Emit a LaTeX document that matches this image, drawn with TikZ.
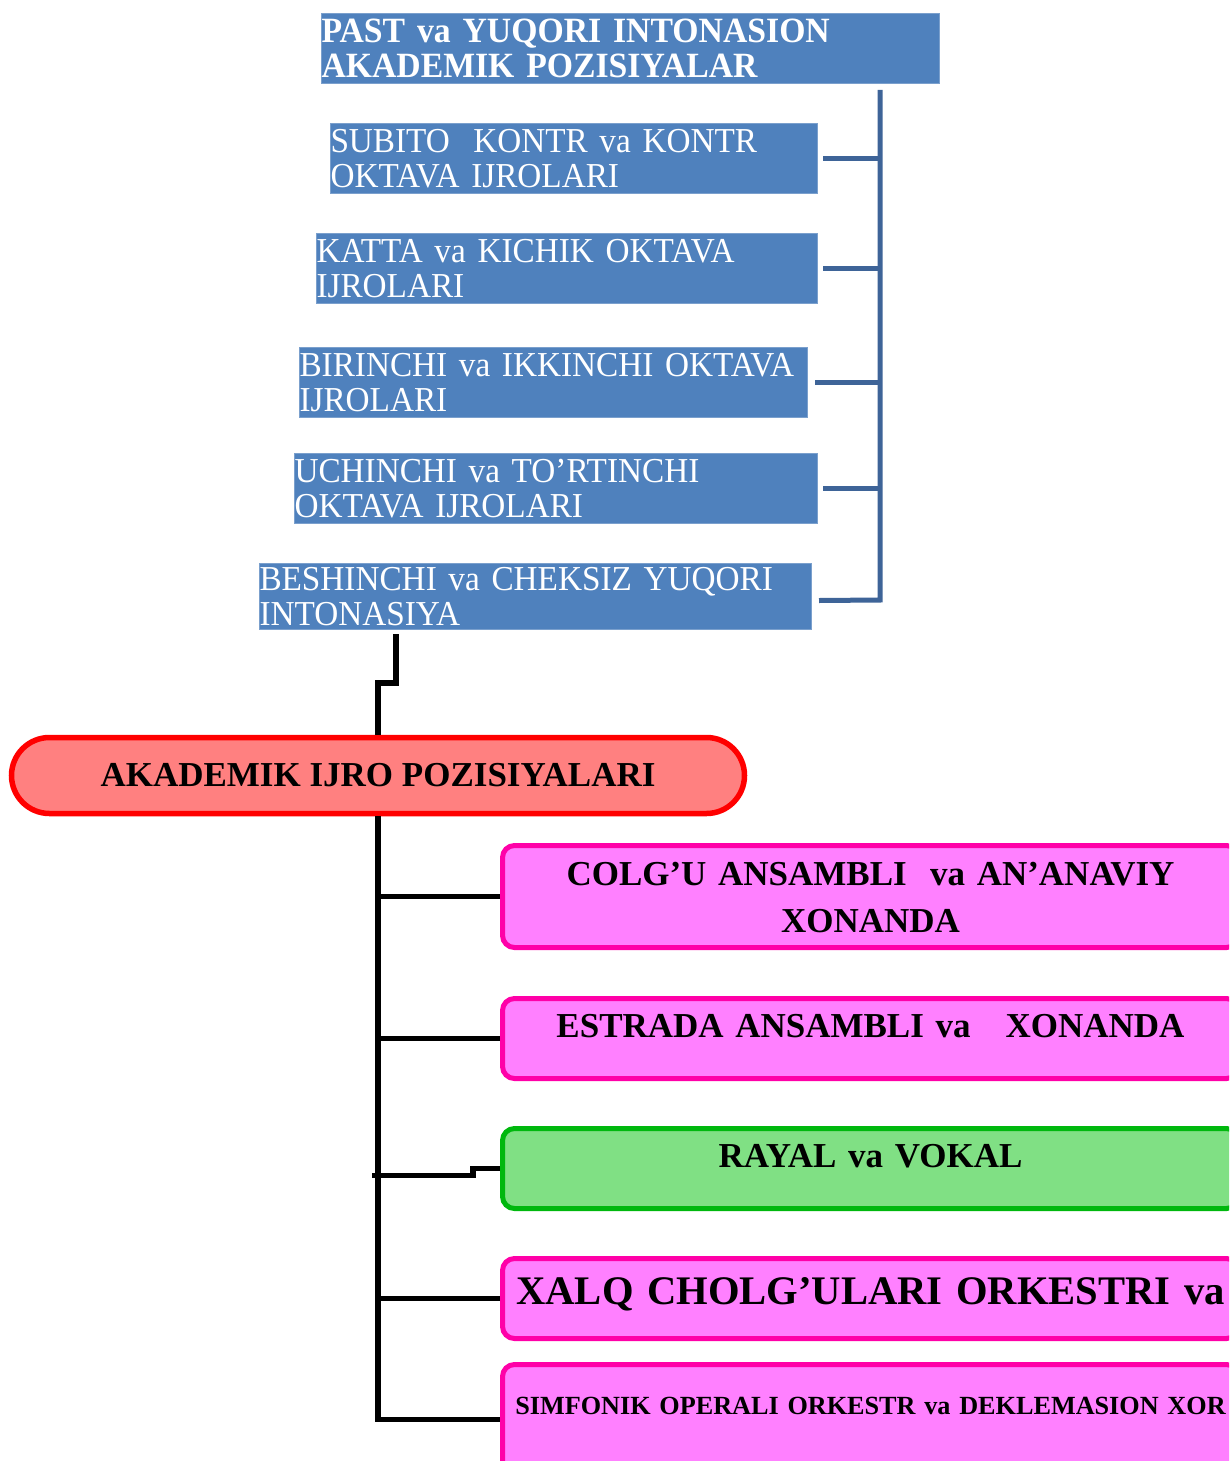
\documentclass[tikz,border=0pt]{standalone}
\usepackage{fontspec}
\setmainfont{Liberation Serif}
\newfontfamily\bluefont[FakeStretch=0.95]{Liberation Serif}
\usetikzlibrary{calc,positioning}

\definecolor{boxblue}{HTML}{4F81BD}
\definecolor{lineblue}{HTML}{3E6498}
\definecolor{salmon}{HTML}{FF8080}
\definecolor{pinkfill}{HTML}{FF80FF}
\definecolor{pinkline}{HTML}{FF00A8}
\definecolor{greenfill}{HTML}{80E084}
\definecolor{greenline}{HTML}{00B80E}

\tikzset{
	bluebox/.style={fill=boxblue, draw=boxblue!75!white, line width=1pt, anchor=north west,
		inner sep=0pt, text=white, align=left, minimum height=70pt,
		font=\bluefont\fontsize{35}{35}\selectfont},
	pinkbox/.style={fill=pinkfill, draw=pinkline, line width=5pt, rounded corners=12pt,
		anchor=north west, inner xsep=8pt, inner ysep=0pt, text width=720pt, align=center,
		font=\bfseries\fontsize{35}{47}\selectfont},
	greenbox/.style={pinkbox, fill=greenfill, draw=greenline},
	bluewire/.style={draw=lineblue, line width=5pt},
	blackwire/.style={draw=black, line width=5.5pt}
}

\begin{document}
\begin{tikzpicture}[x=1pt, y=-1pt]
			%%%%% START %%%%%
			\useasboundingbox (0, 0) rectangle (1229, 1461);
			\clip (0, 0) rectangle (1229, 1461);
			
			% blue boxes
			\node[bluebox, minimum width=618pt, text width=618pt, font=\bluefont\bfseries\fontsize{35.5}{35}\selectfont] (pastyuqori) at (321, 13)
				{\mbox{PAST va YUQORI INTONASION}\\\mbox{AKADEMIK POZISIYALAR}};
			\node[bluebox, minimum width=487pt, text width=487pt] (subito) at (330, 123)
				{\mbox{SUBITO~ KONTR va KONTR}\\\mbox{OKTAVA IJROLARI}};
			\node[bluebox, minimum width=501pt, text width=501pt] (katta) at (316, 233)
				{\mbox{KATTA va KICHIK OKTAVA}\\\mbox{IJROLARI}};
			\node[bluebox, minimum width=508pt, text width=508pt] (birinchi) at (299, 347)
				{\mbox{BIRINCHI va IKKINCHI OKTAVA}\\\mbox{IJROLARI}};
			\node[bluebox, minimum width=523pt, text width=523pt] (uchinchi) at (294, 453)
				{\mbox{UCHINCHI va TO’RTINCHI}\\\mbox{OKTAVA IJROLARI}};
			\node[bluebox, minimum width=552pt, minimum height=66pt, text width=552pt] (beshinchi) at (259, 563)
				{\mbox{BESHINCHI va CHEKSIZ YUQORI}\\\mbox{INTONASIYA}};
			
			\coordinate (bustop) at (880, 90);
			\coordinate (busbot) at (880, 600);
			\draw[bluewire] (bustop) -- (busbot) -- ($(beshinchi.east)+(7,4)$);
			\foreach \n/\g in {subito/5, katta/5, birinchi/7, uchinchi/5}
				\draw[bluewire] ($(\n.east)+(\g,0)$) -- (\n.east -| bustop);
			
			% red box
			\node[fill=salmon, draw=red, line width=5.5pt, rounded corners=38pt, minimum width=733pt,
				minimum height=76pt, font=\bfseries\fontsize{35}{35}\selectfont] (akademik) at (378, 775.5)
				{AKADEMIK IJRO POZISIYALARI};
			\draw[blackwire] ($(beshinchi.south west)+(137,4)$) |- ($(akademik.north)+(0,-52)$) -- (akademik.north);
			
			% right boxes
			\node[pinkbox, text height=40pt, text depth=62pt] (colgu) at (500, 843)
				{COLG’U ANSAMBLI~ va AN’ANAVIY\\XONANDA};
			\node[pinkbox, text height=39pt, text depth=41pt] (estrada) at (500, 996)
				{ESTRADA ANSAMBLI va~~~XONANDA};
			\node[greenbox, text height=39pt, text depth=41pt] (rayal) at (500, 1126)
				{RAYAL va VOKAL};
			\node[pinkbox, text height=46pt, text depth=34pt, font=\bfseries\fontsize{40.6}{41}\selectfont] (xalq) at (500, 1256)
				{XALQ CHOLG’ULARI ORKESTRI va};
			\node[pinkbox, text height=50pt, text depth=60pt, font=\bfseries\fontsize{26.2}{26.2}\selectfont] (simfonik) at (500, 1362)
				{SIMFONIK OPERALI ORKESTR va DEKLEMASION XOR};
			
			\draw[blackwire] (akademik.south) -- (akademik.south |- simfonik.west) -- (simfonik.west);
			\foreach \n in {colgu, estrada, xalq}
				\draw[blackwire] (\n.west) -- (\n.west -| akademik.south);
			\draw[blackwire] (rayal.west) -- ++(-27, 0) -- ++(0, 7) -- ($(rayal.west -| akademik.south)+(-6, 7)$);
			%%%%% END %%%%%
\end{tikzpicture}
\end{document}
